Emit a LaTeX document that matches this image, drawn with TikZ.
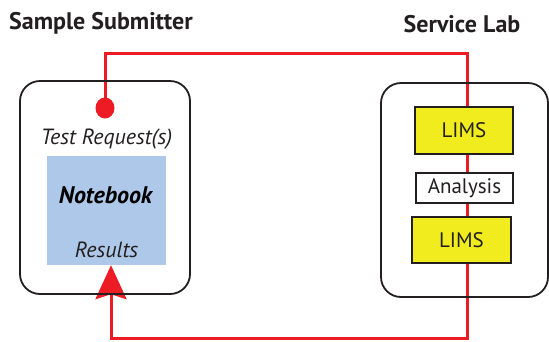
\documentclass[tikz,border=0pt]{standalone}
\usepackage{fontspec}
\setmainfont{PT Sans}
\usetikzlibrary{arrows.meta,backgrounds,shapes.geometric}
\definecolor{ink}{HTML}{231F20}
\definecolor{redl}{HTML}{ED1C24}
\definecolor{yel}{HTML}{F0EC1E}
\definecolor{blu}{HTML}{ADC8E8}
\tikzset{
  panel/.style={draw=ink, line width=1.8pt, rounded corners=20pt, inner sep=0pt},
  limsbox/.style={draw=ink, line width=1.6pt, fill=yel, inner sep=0pt, font=\fontsize{21}{24}\selectfont, text=ink},
  anbox/.style={draw=ink, line width=1.6pt, fill=white, inner sep=0pt, font=\fontsize{21}{24}\selectfont, text=ink},
  title/.style={font=\fontsize{24}{28}\selectfont\bfseries, text=ink, inner sep=0pt},
  itlabel/.style={font=\fontsize{22}{26}\selectfont\itshape, text=ink, inner sep=0pt},
  redline/.style={draw=redl, line width=3pt},
}
\begin{document}
\begin{tikzpicture}[x=1pt,y=-1pt]
\useasboundingbox (0,0) rectangle (549,341);
\node[title] (t1) at (101,23) {Sample Submitter};
\node[title] (t2) at (462,24) {Service Lab};
\node[panel, minimum width=170pt, minimum height=213pt] (sub) at (105,187.5) {};
\node[panel, minimum width=167pt, minimum height=214pt] (lab) at (464.5,190) {};
\node[fill=blu, inner sep=0pt, minimum width=119pt, minimum height=109pt] (nb) at (106.5,210.5) {};
\node[font=\fontsize{24}{28}\selectfont\bfseries\itshape, text=black, inner sep=0pt] (nbt) at (105.5,195) {Notebook};
\node[itlabel] (res) at (106.5,250) {Results};
\node[itlabel] (tr) at (106.5,139) {Test Request(s)};
\node[ellipse, fill=redl, inner sep=0pt, minimum width=19pt, minimum height=21pt] (dot) at (105,108) {};
\node[limsbox, minimum width=98pt, minimum height=47pt] (l1) at (464,130.5) {LIMS};
\node[anbox, minimum width=97pt, minimum height=30pt] (an) at (464.5,188) {Analysis};
\node[limsbox, minimum width=99pt, minimum height=46pt] (l2) at (461.5,240) {LIMS};
\coordinate (ctr) at (467,53);
\coordinate (cbr) at (467,338.5);
\coordinate (cbl) at (111,338.5);
\begin{scope}[on background layer]
\draw[redline] (dot.center) |- (ctr) -- (cbr) -- (cbl)
  -- (cbl |- nb.south) [-{Stealth[length=34pt,width=31pt,inset=5pt]}];
\end{scope}
\end{tikzpicture}
\end{document}
